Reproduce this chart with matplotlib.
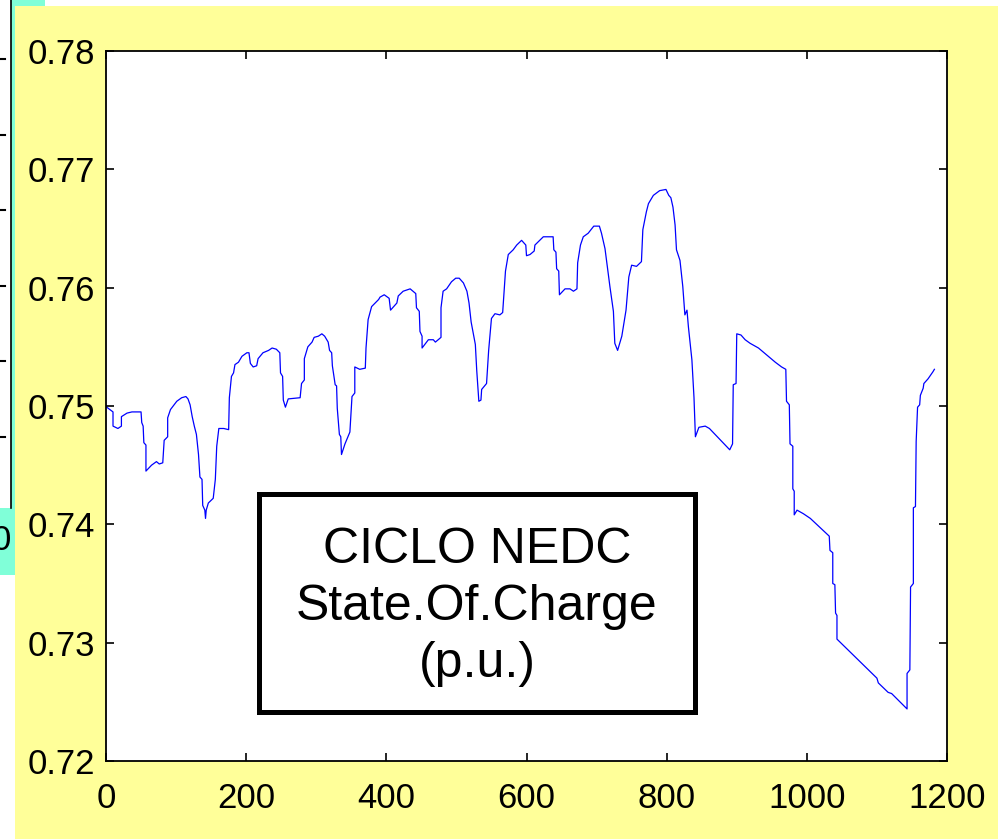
import matplotlib.pyplot as plt
from matplotlib.patches import Rectangle
import numpy as np

plt.rcParams['font.family'] = ['Liberation Sans', 'DejaVu Sans']

# time (s) and state of charge (p.u.)
t = [1, 10, 10, 17, 22, 22, 30, 37, 50, 51, 53, 54, 57, 57, 65, 72, 76, 81, 83, 88,
     88, 92, 101, 108, 114, 117, 120, 123, 126, 129, 132, 134, 137, 138, 141, 142, 143, 146, 153, 156,
     158, 161, 168, 175, 176, 179, 182, 184, 189, 194, 201, 204, 206, 210, 215, 217, 224, 232, 237, 243,
     248, 249, 252, 253, 256, 260, 277, 279, 283, 283, 288, 294, 297, 303, 308, 312, 317, 319, 322, 323,
     327, 329, 330, 333, 335, 336, 341, 348, 351, 355, 355, 362, 370, 371, 374, 379, 389, 391, 397, 404,
     406, 415, 417, 424, 434, 442, 443, 447, 448, 451, 451, 460, 467, 470, 478, 478, 481, 486, 493, 499,
     504, 510, 515, 518, 521, 527, 529, 532, 535, 536, 543, 546, 550, 555, 562, 566, 567, 570, 574, 581,
     586, 593, 599, 600, 605, 611, 612, 624, 638, 639, 642, 643, 646, 647, 655, 662, 667, 672, 673, 677,
     681, 688, 696, 704, 707, 712, 715, 719, 724, 726, 730, 736, 742, 746, 750, 757, 764, 766, 771, 774,
     781, 790, 799, 803, 806, 809, 812, 814, 819, 823, 826, 829, 831, 836, 839, 841, 846, 855, 861, 890,
     894, 895, 899, 900, 906, 912, 919, 931, 943, 955, 964, 970, 971, 975, 976, 980, 980, 982, 982, 986,
     995, 1005, 1032, 1033, 1037, 1037, 1040, 1041, 1043, 1043, 1100, 1102, 1116, 1121, 1143, 1143, 1147, 1148, 1152, 1152,
     1155, 1156, 1158, 1161, 1162, 1166, 1167, 1173, 1180, 1182]
soc = [0.7499, 0.7495, 0.7483, 0.7481, 0.7483, 0.7491, 0.7494, 0.7495, 0.7495, 0.7486, 0.7483, 0.7469, 0.7467, 0.7445, 0.7450, 0.7453, 0.7451, 0.7452, 0.7471, 0.7474,
       0.7490, 0.7497, 0.7504, 0.7507, 0.7508, 0.7506, 0.7501, 0.7491, 0.7483, 0.7476, 0.7459, 0.7440, 0.7438, 0.7416, 0.7412, 0.7405, 0.7412, 0.7418, 0.7422, 0.7438,
       0.7466, 0.7481, 0.7481, 0.7480, 0.7507, 0.7525, 0.7528, 0.7535, 0.7537, 0.7542, 0.7545, 0.7545, 0.7536, 0.7533, 0.7534, 0.7540, 0.7545, 0.7547, 0.7549, 0.7548,
       0.7545, 0.7528, 0.7525, 0.7505, 0.7499, 0.7506, 0.7507, 0.7519, 0.7522, 0.7540, 0.7550, 0.7554, 0.7558, 0.7559, 0.7561, 0.7559, 0.7554, 0.7547, 0.7545, 0.7534,
       0.7518, 0.7517, 0.7498, 0.7476, 0.7474, 0.7459, 0.7468, 0.7478, 0.7508, 0.7511, 0.7533, 0.7531, 0.7532, 0.7549, 0.7573, 0.7584, 0.7590, 0.7592, 0.7594, 0.7591,
       0.7581, 0.7587, 0.7593, 0.7597, 0.7599, 0.7595, 0.7583, 0.7580, 0.7563, 0.7559, 0.7549, 0.7556, 0.7556, 0.7554, 0.7558, 0.7583, 0.7597, 0.7599, 0.7605, 0.7608,
       0.7608, 0.7604, 0.7597, 0.7587, 0.7571, 0.7552, 0.7530, 0.7504, 0.7505, 0.7514, 0.7519, 0.7547, 0.7574, 0.7578, 0.7577, 0.7579, 0.7588, 0.7614, 0.7628, 0.7632,
       0.7636, 0.7640, 0.7636, 0.7627, 0.7628, 0.7631, 0.7636, 0.7643, 0.7643, 0.7632, 0.7630, 0.7616, 0.7614, 0.7594, 0.7599, 0.7599, 0.7597, 0.7599, 0.7621, 0.7636,
       0.7643, 0.7646, 0.7652, 0.7652, 0.7646, 0.7633, 0.7619, 0.7601, 0.7580, 0.7553, 0.7547, 0.7559, 0.7581, 0.7609, 0.7619, 0.7618, 0.7622, 0.7649, 0.7664, 0.7671,
       0.7678, 0.7682, 0.7683, 0.7678, 0.7676, 0.7668, 0.7653, 0.7632, 0.7623, 0.7601, 0.7577, 0.7581, 0.7567, 0.7539, 0.7507, 0.7474, 0.7482, 0.7483, 0.7481, 0.7463,
       0.7468, 0.7518, 0.7519, 0.7561, 0.7560, 0.7556, 0.7553, 0.7549, 0.7543, 0.7537, 0.7533, 0.7531, 0.7504, 0.7501, 0.7468, 0.7466, 0.7430, 0.7428, 0.7408, 0.7412,
       0.7409, 0.7405, 0.7390, 0.7378, 0.7376, 0.7350, 0.7349, 0.7325, 0.7323, 0.7303, 0.7270, 0.7266, 0.7258, 0.7257, 0.7244, 0.7274, 0.7277, 0.7347, 0.7350, 0.7414,
       0.7415, 0.7470, 0.7499, 0.7501, 0.7509, 0.7515, 0.7519, 0.7523, 0.7529, 0.7531]

xticks = [0, 200, 400, 600, 800, 1000, 1200]
yticks = [0.72, 0.73, 0.74, 0.75, 0.76, 0.77, 0.78]
label = "CICLO NEDC\nState.Of.Charge\n(p.u.)"

W, H = 1003, 839
fig = plt.figure(figsize=(W / 100, H / 100), dpi=100)
fig.patch.set_facecolor('white')

# background slide decoration, in pixel coordinates
bg = fig.add_axes([0, 0, 1, 1])
bg.set_xlim(0, W)
bg.set_ylim(H, 0)
bg.axis('off')
cyan = '#80FFD8'
bg.add_patch(Rectangle((11, 0), 34, 6, color=cyan, lw=0))
bg.add_patch(Rectangle((11, 0), 4, 508, color=cyan, lw=0))
bg.add_patch(Rectangle((0, 508), 15, 67, color=cyan, lw=0))
bg.plot([11, 11], [0, 508], color='black', lw=1.2)
for yy in [59, 135, 210, 286, 361, 437]:
    bg.plot([0, 5], [yy, yy], color='black', lw=1.5)
bg.text(-8, 541, '0', fontsize=25, ha='left', va='center')
bg.add_patch(Rectangle((15, 6), 983, H - 6, color='#FFFF99', lw=0))

ax = fig.add_axes([106 / W, 1 - 761 / H, 841 / W, 710 / H])
ax.set_facecolor('white')
ax.plot(t, soc, color='#0000FF', lw=0.9)
ax.set_xlim(0, 1200)
ax.set_ylim(0.72, 0.78)
ax.set_xticks(xticks)
ax.set_yticks(yticks)
ax.set_xticklabels([str(v) for v in xticks])
ax.set_yticklabels(['%.2f' % v for v in yticks])
ax.tick_params(direction='in', length=6, width=1.2, labelsize=25,
               top=True, right=True, colors='black')
ax.tick_params(axis='x', pad=15)
ax.tick_params(axis='y', pad=8)
for s in ax.spines.values():
    s.set_linewidth(1.3)

# label box on top
ov = fig.add_axes([0, 0, 1, 1])
ov.set_xlim(0, W)
ov.set_ylim(H, 0)
ov.axis('off')
ov.patch.set_alpha(0)
ov.add_patch(Rectangle((259, 494), 436, 218, facecolor='white',
                       edgecolor='black', lw=3.6))
ov.text(477, 607, label, fontsize=36, ha='center', va='center',
        linespacing=1.3)

fig.savefig('out.png', dpi=100)
